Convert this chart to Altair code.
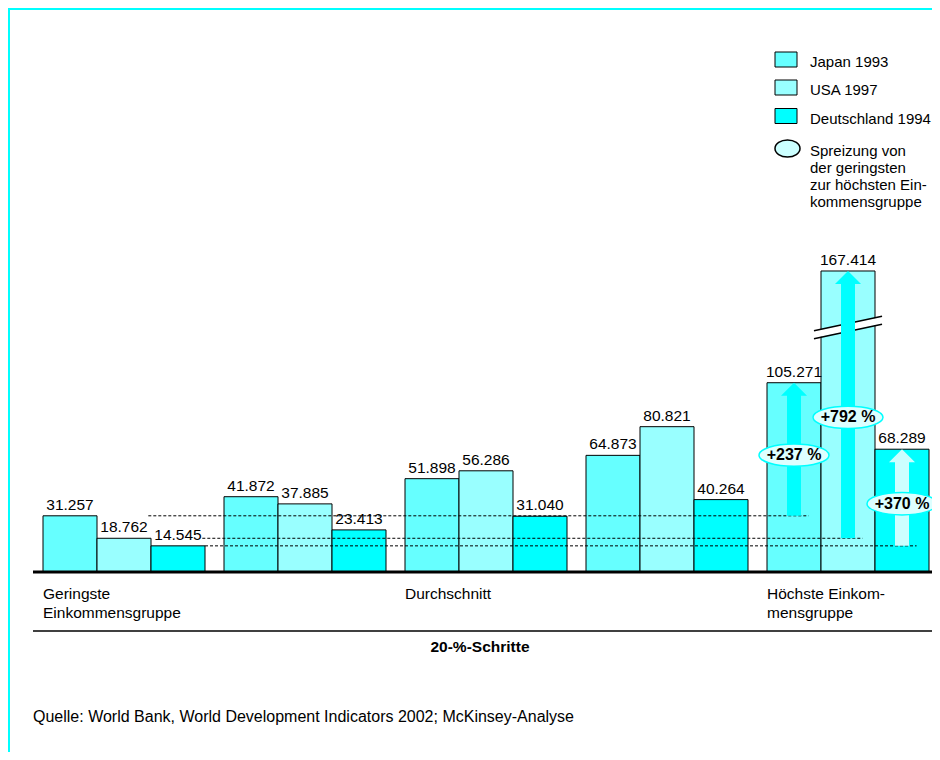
import altair as alt
import pandas as pd

# ---------------- data ----------------
series = ["Japan 1993", "USA 1997", "Deutschland 1994"]
groups = ["Q1", "Q2", "Q3", "Q4", "Q5"]
group_labels = ["Geringste\nEinkommensgruppe", "", "Durchschnitt", "", "Höchste Einkom-\nmensgruppe"]
japan = [31.257, 41.872, 51.898, 64.873, 105.271]
usa = [18.762, 37.885, 56.286, 80.821, 167.414]
deutschland = [14.545, 23.413, 31.040, 40.264, 68.289]
spread_labels = ["+237 %", "+792 %", "+370 %"]
spread_label_levels = [65, 86, 38]
break_levels = [132, 140]
legend_note = "Spreizung von\nder geringsten\nzur höchsten Ein-\nkommensgruppe"
x_title = "20-%-Schritte"
source = "Quelle: World Bank, World Development Indicators 2002; McKinsey-Analyse"

# ---------------- styles / layout ----------------
FONT = "Liberation Sans, Arial, Helvetica, sans-serif"
W, H = 924, 744
X0, BARW = 35, 54
BASE, PXU = 564, 1.798
GROUP_STEP = 181 / 54
bar_colors = {"Japan 1993": "#66FFFF", "USA 1997": "#99FFFF", "Deutschland 1994": "#00FFFF"}
arrow_colors = {"Japan 1993": "#00FFFF", "USA 1997": "#00FFFF", "Deutschland 1994": "#CCFFFF"}
dash_start = {"Japan 1993": 1.95, "USA 1997": 2.95, "Deutschland 1994": 3.0}
legend_tops = [44, 72, 100.5]
legend_bases = [58.5, 87, 115.5]

xs = alt.Scale(domain=[0, 17], range=[X0, X0 + 17 * BARW], nice=False, zero=False)
ys = alt.Scale(domain=[0, 300], range=[BASE, BASE - 300 * PXU], nice=False, zero=False)


def qx(f):
    return alt.X(f"{f}:Q", scale=xs, axis=None)


def qy(f):
    return alt.Y(f"{f}:Q", scale=ys, axis=None)


one = alt.Data(values=[{"a": 1}])

rows = []
for s_i, (name, vals) in enumerate(zip(series, [japan, usa, deutschland])):
    for g_i, v in enumerate(vals):
        left = g_i * GROUP_STEP + s_i
        rows.append(dict(series=name, group=groups[g_i], value=v, left=left,
                         right=left + 1, center=left + 0.5, fill=bar_colors[name]))
bars_df = pd.DataFrame(rows)

arrow_rows = []
for s_i, (name, vals) in enumerate(zip(series, [japan, usa, deutschland])):
    c = 4 * GROUP_STEP + s_i + 0.5
    arrow_rows.append(dict(series=name, center=c, low=vals[0], high=vals[4],
                           color=arrow_colors[name], start=dash_start[name], end=c + 0.27,
                           label=spread_labels[s_i], level=spread_label_levels[s_i]))
arrows_df = pd.DataFrame(arrow_rows)

usa_left = 4 * GROUP_STEP + 1
break_df = pd.DataFrame([dict(x1=usa_left - 0.13, x2=usa_left + 1.13,
                              lo=break_levels[0], hi=break_levels[1])])

glab_df = pd.DataFrame([dict(left=g_i * GROUP_STEP, label=l)
                        for g_i, l in enumerate(group_labels) if l])

legend_df = pd.DataFrame([dict(series=s, fill=bar_colors[s], top=t, bot=t + 15, base=b)
                          for s, t, b in zip(series, legend_tops, legend_bases)])

HEAD = "M-1,1L0,0L1,1Z"


def ellipse(k):
    c = 0.5523
    return (f"M-1,0C-1,{-c*k:.4f},{-c:.4f},{-k},0,{-k}C{c:.4f},{-k},1,{-c*k:.4f},1,0"
            f"C1,{c*k:.4f},{c:.4f},{k},0,{k}C{-c:.4f},{k},-1,{c*k:.4f},-1,0Z")


# ---------------- layers ----------------
frame_top = alt.Chart(one).mark_rule(color="#00FFFF", strokeWidth=3).encode(
    x=alt.value(0), x2=alt.value(W), y=alt.value(0.5))
frame_left = alt.Chart(one).mark_rule(color="#00FFFF", strokeWidth=3).encode(
    x=alt.value(0.5), y=alt.value(0), y2=alt.value(H))

bars = alt.Chart(bars_df).mark_bar(stroke="black", strokeWidth=1).encode(
    x=qx("left"), x2="right", y=qy("value"), y2=alt.datum(0),
    fill=alt.Fill("fill:N", scale=None))

brk_white = alt.Chart(break_df).mark_rule(color="white", strokeWidth=7).encode(
    x=qx("x1"), x2="x2", y=qy("lo"), y2="hi")
brk_b1 = alt.Chart(break_df).mark_rule(color="black", strokeWidth=1.5, yOffset=-4, y2Offset=-4).encode(
    x=qx("x1"), x2="x2", y=qy("lo"), y2="hi")
brk_b2 = alt.Chart(break_df).mark_rule(color="black", strokeWidth=1.5, yOffset=4, y2Offset=4).encode(
    x=qx("x1"), x2="x2", y=qy("lo"), y2="hi")

dashes = alt.Chart(arrows_df).mark_rule(color="black", strokeWidth=1, strokeDash=[3, 2]).encode(
    x=qx("start"), x2="end", y=qy("low"))

shafts = alt.Chart(arrows_df).mark_rule(strokeWidth=14, strokeCap="butt", y2Offset=10).encode(
    x=qx("center"), y=qy("low"), y2="high", stroke=alt.Stroke("color:N", scale=None))
heads = alt.Chart(arrows_df).mark_point(shape=HEAD, filled=True, size=676, opacity=1, strokeWidth=0).encode(
    x=qx("center"), y=qy("high"), fill=alt.Fill("color:N", scale=None))

ell = alt.Chart(arrows_df).mark_point(shape=ellipse(0.32), filled=True, size=4900, opacity=1,
                                      fill="#DDFFFF", stroke="#00FFFF", strokeWidth=1.5).encode(
    x=qx("center"), y=qy("level"))
ell_txt = alt.Chart(arrows_df).mark_text(font=FONT, fontSize=16, fontWeight="bold", baseline="middle").encode(
    x=qx("center"), y=qy("level"), text="label:N")

baseline = alt.Chart(one).mark_rule(color="black", strokeWidth=3).encode(
    x=alt.value(25), x2=alt.value(W), y=alt.value(BASE))
lower_line = alt.Chart(one).mark_rule(color="black", strokeWidth=1.5).encode(
    x=alt.value(25), x2=alt.value(W), y=alt.value(623))

vlabels = alt.Chart(bars_df).mark_text(font=FONT, fontSize=15.5, baseline="alphabetic", dy=-6).encode(
    x=qx("center"), y=qy("value"), text=alt.Text("value:Q", format=".3f"))

glabels = alt.Chart(glab_df).mark_text(font=FONT, fontSize=15.5, align="left", baseline="alphabetic",
                                       lineBreak="\n", lineHeight=19).encode(
    x=qx("left"), y=alt.value(591), text="label:N")

xtitle = alt.Chart(alt.Data(values=[{"t": x_title}])).mark_text(
    font=FONT, fontSize=15.5, fontWeight="bold", baseline="alphabetic").encode(
    x=alt.value(472), y=alt.value(644), text="t:N")
src = alt.Chart(alt.Data(values=[{"t": source}])).mark_text(
    font=FONT, fontSize=16, align="left", baseline="alphabetic").encode(
    x=alt.value(25), y=alt.value(714), text="t:N")

leg_rect = alt.Chart(legend_df).mark_rect(stroke="black", strokeWidth=1).encode(
    x=alt.value(767), x2=alt.value(789), y=alt.Y("top:Q", scale=None), y2="bot",
    fill=alt.Fill("fill:N", scale=None))
leg_txt = alt.Chart(legend_df).mark_text(font=FONT, fontSize=15, align="left", baseline="alphabetic").encode(
    x=alt.value(802), y=alt.Y("base:Q", scale=None), text="series:N")
leg_ell = alt.Chart(one).mark_point(shape=ellipse(0.68), filled=True, size=625, opacity=1,
                                    fill="#CCFFFF", stroke="black", strokeWidth=1.5).encode(
    x=alt.value(779.5), y=alt.value(140.5))
leg_note = alt.Chart(alt.Data(values=[{"t": legend_note}])).mark_text(
    font=FONT, fontSize=15, align="left", baseline="alphabetic", lineBreak="\n", lineHeight=17).encode(
    x=alt.value(802), y=alt.value(148), text="t:N")

chart = alt.layer(
    frame_top, frame_left, bars, brk_white, brk_b1, brk_b2, dashes, shafts, heads,
    ell, ell_txt, baseline, lower_line, vlabels, glabels, xtitle, src,
    leg_rect, leg_txt, leg_ell, leg_note
).properties(
    width=W, height=H, autosize=alt.AutoSizeParams(type="none"), padding=0, background="white"
).configure_view(stroke=None)

chart.save("out.html", embed_options={"renderer": "svg", "actions": False})
